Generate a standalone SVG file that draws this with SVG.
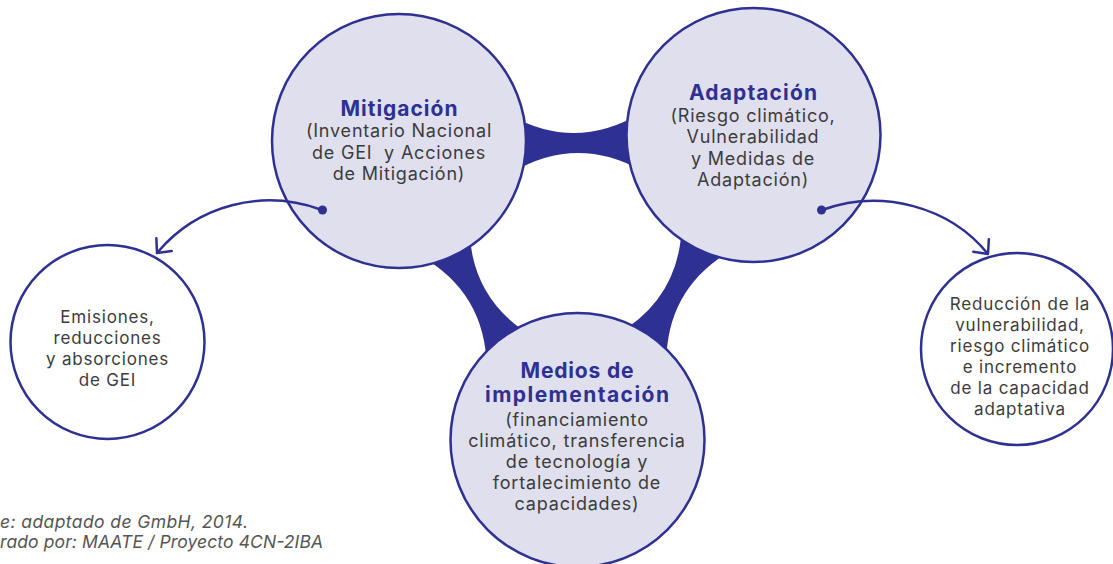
<svg xmlns="http://www.w3.org/2000/svg" width="1113" height="564" viewBox="0 0 1113 564">
<style>
.main{fill:#dfdfee;stroke:#2e3192;stroke-width:2.5}
.side{fill:#ffffff;stroke:#2e3192;stroke-width:2.5}
.band{fill:#2e3192}
.t{font-family:Inter,"Liberation Sans",sans-serif;text-anchor:middle;fill:#3c3c3c;font-size:18px;letter-spacing:0.8px}
.h{font-weight:700;fill:#2e3192;font-size:21px;letter-spacing:0}
.s{font-size:17px;letter-spacing:0.8px}
.link{fill:none;stroke:#2e3192;stroke-width:2.5}
.dot{fill:#2e3192}
.note{font-family:Inter,"Liberation Sans",sans-serif;font-style:italic;font-size:17.5px;fill:#555555}
</style>
<defs>
<path id="bandShape" d="M -65,-28.6 Q 0,8.6 65,-28.6 L 65,28.6 Q 0,-8.6 -65,28.6 Z"/>
<marker id="arrow" markerUnits="userSpaceOnUse" markerWidth="30" markerHeight="30" viewBox="-20 -15 25 30" refX="0" refY="0" orient="auto">
<path d="M -11,-10 L 0,0 L -11,10" fill="none" stroke="#2e3192" stroke-width="2.5" stroke-linecap="round" stroke-linejoin="round"/>
</marker>
</defs>
<g id="connectors-bands">
<use href="#bandShape" class="band" transform="translate(576,143) rotate(-1)"/>
<use href="#bandShape" class="band" transform="translate(478,297) rotate(59.2)"/>
<use href="#bandShape" class="band" transform="translate(674,292.5) rotate(120)"/>
</g>
<g id="node-mitigacion">
<circle class="main" cx="399" cy="141" r="127"/>
<text class="t h" x="399" y="116" textLength="117" lengthAdjust="spacing">Mitigación</text>
<text class="t" x="399" y="137">(Inventario Nacional</text>
<text class="t" x="399" y="158.5" style="white-space:pre">de GEI  y Acciones</text>
<text class="t" x="399" y="180">de Mitigación)</text>
</g>
<g id="node-adaptacion">
<circle class="main" cx="753.5" cy="135" r="127"/>
<text class="t h" x="753" y="100" textLength="128" lengthAdjust="spacing">Adaptación</text>
<text class="t" x="753" y="122">(Riesgo climático,</text>
<text class="t" x="753" y="143">Vulnerabilidad</text>
<text class="t" x="753" y="164.5">y Medidas de</text>
<text class="t" x="753" y="185.5">Adaptación)</text>
</g>
<g id="node-medios">
<circle class="main" cx="577.5" cy="440" r="127"/>
<text class="t h" x="577" y="378" textLength="113" lengthAdjust="spacing">Medios de</text>
<text class="t h" x="577" y="402" textLength="184" lengthAdjust="spacing">implementación</text>
<text class="t" x="577" y="426">(financiamiento</text>
<text class="t" x="577" y="447">climático, transferencia</text>
<text class="t" x="577" y="468">de tecnología y</text>
<text class="t" x="577" y="489">fortalecimiento de</text>
<text class="t" x="577" y="510">capacidades)</text>
</g>
<g id="node-emisiones">
<circle class="side" cx="107.5" cy="342" r="97"/>
<text class="t s" x="107.5" y="322.5">Emisiones,</text>
<text class="t s" x="107.5" y="343.5">reducciones</text>
<text class="t s" x="107.5" y="364.5">y absorciones</text>
<text class="t s" x="107.5" y="385.5">de GEI</text>
</g>
<g id="node-reduccion">
<circle class="side" cx="1017" cy="349" r="96"/>
<text class="t s" x="1020" y="310">Reducción de la</text>
<text class="t s" x="1020" y="331">vulnerabilidad,</text>
<text class="t s" x="1020" y="352">riesgo climático</text>
<text class="t s" x="1020" y="373">e incremento</text>
<text class="t s" x="1020" y="394">de la capacidad</text>
<text class="t s" x="1020" y="415">adaptativa</text>
</g>
<g id="connectors-arrows">
<path class="link" d="M 322,210 C 262,188 197,205 157,253" marker-end="url(#arrow)"/>
<circle class="dot" cx="322.5" cy="210" r="4.5"/>
<path class="link" d="M 822,210 C 882,188 950,207 988,254" marker-end="url(#arrow)"/>
<circle class="dot" cx="821.5" cy="210" r="4.5"/>
</g>
<g id="source-note">
<text class="note" x="0" y="528" textLength="248" lengthAdjust="spacing">e: adaptado de GmbH, 2014.</text>
<text class="note" x="0" y="548" textLength="323" lengthAdjust="spacing">rado por: MAATE / Proyecto 4CN-2IBA</text>
</g>
</svg>
